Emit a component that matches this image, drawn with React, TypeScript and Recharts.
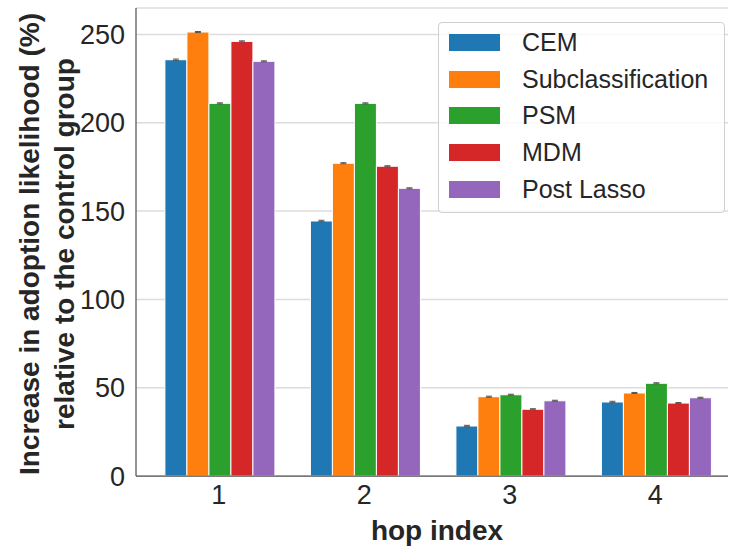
import React from 'react';
import { BarChart, Bar, XAxis, YAxis, CartesianGrid, ErrorBar } from 'recharts';

const hops = ['1', '2', '3', '4'];
const cem = [235.7, 144.4, 28.3, 41.9];
const subclass = [251.4, 177.1, 44.9, 47.0];
const psm = [211.0, 211.0, 46.0, 52.5];
const mdm = [246.1, 175.4, 37.8, 41.3];
const postLasso = [234.8, 162.9, 42.6, 44.3];
const errs = [0.4, 0.3, 0.3, 0.3, 0.3];
const yTicks = [0, 50, 100, 150, 200, 250];

const series = [
  { key: 'cem', name: 'CEM', color: '#1f77b4', values: cem },
  { key: 'sub', name: 'Subclassification', color: '#ff7f0e', values: subclass },
  { key: 'psm', name: 'PSM', color: '#2ca02c', values: psm },
  { key: 'mdm', name: 'MDM', color: '#d62728', values: mdm },
  { key: 'lasso', name: 'Post Lasso', color: '#9467bd', values: postLasso }
];

const data = hops.map((hop, i) => {
  const row: Record<string, string | number> = { hop };
  series.forEach((s, j) => {
    row[s.key] = s.values[i];
    row[s.key + 'Err'] = errs[j];
  });
  return row;
});

const FONT = '"Liberation Sans", Arial, sans-serif';
const SPINE = '#555555';

// legend sits over the plot, top right, like matplotlib's "best" spot
function LegendBox() {
  return (
    <div
      style={{
        position: 'absolute',
        left: 438,
        top: 22,
        width: 287,
        height: 191,
        border: '1px solid #d0d0d0',
        borderRadius: 4,
        background: 'rgba(255,255,255,0.8)',
        fontFamily: FONT,
        boxSizing: 'border-box',
        paddingTop: 1
      }}
    >
      {series.map((s) => (
        <div key={s.key} style={{ display: 'flex', alignItems: 'center', height: 36.7 }}>
          <div style={{ width: 51, height: 17, background: s.color, marginLeft: 10 }} />
          <span style={{ marginLeft: 22, fontSize: 25, color: '#262626', lineHeight: '25px' }}>{s.name}</span>
        </div>
      ))}
    </div>
  );
}

function YLabel() {
  return (
    <text
      transform="translate(0,244) rotate(-90)"
      textAnchor="middle"
      fontFamily={FONT}
      fontWeight="bold"
      fontSize={28}
      fill="#262626"
    >
      <tspan x={0} y={39}>Increase in adoption likelihood (%)</tspan>
      <tspan x={0} y={74}>relative to the control group</tspan>
    </text>
  );
}

export default function App() {
  return (
    <div style={{ position: 'absolute', left: 0, top: 0, width: 729, height: 548, background: '#fff' }}>
      <BarChart
        width={729}
        height={548}
        data={data}
        margin={{ top: 8, right: 1, left: 0, bottom: 0 }}
        barCategoryGap="13%"
        barGap={0}
      >
        <CartesianGrid vertical={false} stroke="#dcdcdc" strokeWidth={1.5} />
        <XAxis
          dataKey="hop"
          height={72}
          padding={{ left: 10, right: 0 }}
          tickLine={false}
          tickSize={0}
          tickMargin={9}
          axisLine={{ stroke: SPINE, strokeWidth: 1.25 }}
          tick={{ fontSize: 27, fontFamily: FONT, fill: '#262626' }}
          label={{
            value: 'hop index',
            position: 'insideBottom',
            offset: 8,
            dx: 5,
            fontSize: 28,
            fontWeight: 'bold',
            fontFamily: FONT,
            fill: '#262626'
          }}
        />
        <XAxis xAxisId="top" orientation="top" height={0} tick={false} tickLine={false} axisLine={{ stroke: SPINE, strokeWidth: 1.25 }} />
        <YAxis
          width={136}
          domain={[0, 265]}
          ticks={yTicks}
          interval={0}
          tickLine={false}
          tickSize={0}
          tickMargin={11}
          axisLine={{ stroke: SPINE, strokeWidth: 1.25 }}
          tick={{ fontSize: 27, fontFamily: FONT, fill: '#262626' }}
          label={<YLabel />}
        />
        <YAxis yAxisId="right" orientation="right" width={0} tick={false} tickLine={false} axisLine={{ stroke: SPINE, strokeWidth: 1.25 }} />
        {series.map((s) => (
          <Bar
            key={s.key}
            dataKey={s.key}
            name={s.name}
            fill={s.color}
            stroke="#ffffff"
            strokeWidth={1}
            isAnimationActive={false}
          >
            <ErrorBar dataKey={s.key + 'Err'} width={3} stroke="#555555" strokeWidth={1} direction="y" />
          </Bar>
        ))}
      </BarChart>
      <LegendBox />
    </div>
  );
}
